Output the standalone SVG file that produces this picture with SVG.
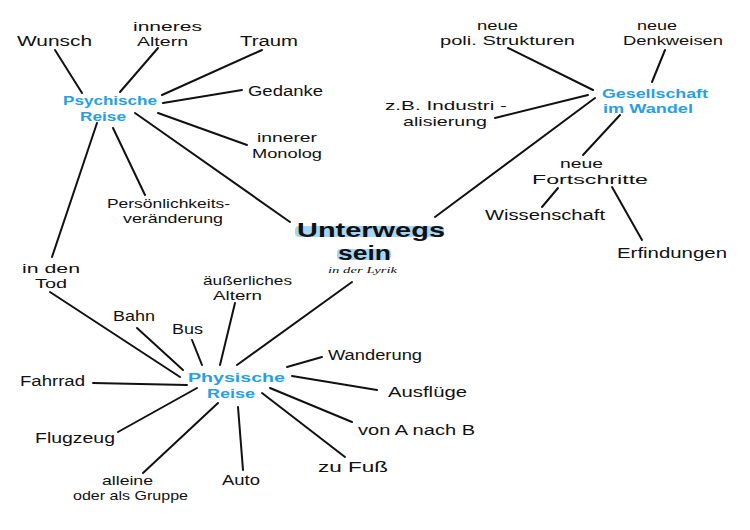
<svg xmlns="http://www.w3.org/2000/svg" width="750" height="530" viewBox="0 0 750 530">
<style>
.bg{fill:#fff}
.c line{stroke:#111;stroke-width:2;stroke-linecap:round}
text{font-family:"Liberation Sans",Arial,sans-serif;font-size:14px;fill:#111}
.t{font-size:13px}
.b{fill:#27a0e3;font-weight:700;font-size:13px}
.m{font-size:20px;font-weight:700}
.s{font-family:"Liberation Serif",serif;font-style:italic;font-size:9px}
.hl{fill:#a6d6f4}
</style>
<rect class="bg" width="750" height="530"/>
<g class="c" id="connectors">
<line x1="55" y1="50" x2="82" y2="93"/>
<line x1="158" y1="48" x2="120" y2="92"/>
<line x1="262" y1="50" x2="162" y2="95"/>
<line x1="242" y1="90" x2="163" y2="103"/>
<line x1="247" y1="145" x2="158" y2="113"/>
<line x1="145" y1="195" x2="113" y2="128"/>
<line x1="135" y1="113" x2="290" y2="222"/>
<line x1="97" y1="123" x2="52" y2="257"/>
<line x1="508" y1="48" x2="593" y2="90"/>
<line x1="665" y1="50" x2="652" y2="82"/>
<line x1="495" y1="118" x2="588" y2="95"/>
<line x1="435" y1="217" x2="595" y2="98"/>
<line x1="620" y1="115" x2="583" y2="155"/>
<line x1="558" y1="188" x2="542" y2="207"/>
<line x1="612" y1="187" x2="642" y2="240"/>
<line x1="50" y1="292" x2="180" y2="377"/>
<line x1="137" y1="328" x2="183" y2="370"/>
<line x1="192" y1="340" x2="202" y2="365"/>
<line x1="235" y1="303" x2="220" y2="365"/>
<line x1="352" y1="282" x2="237" y2="365"/>
<line x1="322" y1="357" x2="287" y2="367"/>
<line x1="292" y1="376" x2="377" y2="390"/>
<line x1="270" y1="388" x2="352" y2="422"/>
<line x1="262" y1="393" x2="345" y2="457"/>
<line x1="238" y1="407" x2="243" y2="470"/>
<line x1="218" y1="403" x2="143" y2="473"/>
<line x1="197" y1="388" x2="118" y2="432"/>
<line x1="93" y1="383" x2="187" y2="385"/>
</g>
<g id="unterwegs">
<rect class="hl" x="295" y="226" width="149" height="11" rx="4"/>
<rect class="hl" x="337" y="249" width="54" height="11" rx="4"/>
<text class="m" x="297" y="237" textLength="148" lengthAdjust="spacingAndGlyphs">Unterwegs</text>
<text class="m" x="338" y="260" textLength="53" lengthAdjust="spacingAndGlyphs">sein</text>
<text class="s" x="328" y="273" textLength="69" lengthAdjust="spacingAndGlyphs">in der Lyrik</text>
</g>
<g id="psychische">
<text class="b" x="63" y="105" textLength="94" lengthAdjust="spacingAndGlyphs">Psychische</text>
<text class="b" x="80" y="121" textLength="46" lengthAdjust="spacingAndGlyphs">Reise</text>
</g>
<g id="wunsch"><text x="17" y="46" textLength="75" lengthAdjust="spacingAndGlyphs">Wunsch</text></g>
<g id="inneres-altern"><text class="t" x="133" y="31" textLength="69" lengthAdjust="spacingAndGlyphs">inneres</text><text class="t" x="137" y="46" textLength="51" lengthAdjust="spacingAndGlyphs">Altern</text></g>
<g id="traum"><text x="240" y="46" textLength="58" lengthAdjust="spacingAndGlyphs">Traum</text></g>
<g id="gedanke"><text x="248" y="96" textLength="75" lengthAdjust="spacingAndGlyphs">Gedanke</text></g>
<g id="monolog"><text class="t" x="257" y="142" textLength="60" lengthAdjust="spacingAndGlyphs">innerer</text><text class="t" x="252" y="158" textLength="70" lengthAdjust="spacingAndGlyphs">Monolog</text></g>
<g id="persoenlichkeit"><text class="t" x="107" y="208" textLength="123" lengthAdjust="spacingAndGlyphs">Persönlichkeits-</text><text class="t" x="123" y="223" textLength="100" lengthAdjust="spacingAndGlyphs">veränderung</text></g>
<g id="tod"><text class="t" x="22" y="273" textLength="58" lengthAdjust="spacingAndGlyphs">in den</text><text class="t" x="35" y="288" textLength="32" lengthAdjust="spacingAndGlyphs">Tod</text></g>
<g id="gesellschaft">
<text class="b" x="602" y="98" textLength="106" lengthAdjust="spacingAndGlyphs">Gesellschaft</text>
<text class="b" x="603" y="113" textLength="90" lengthAdjust="spacingAndGlyphs">im Wandel</text>
</g>
<g id="poli"><text class="t" x="477" y="30" textLength="41" lengthAdjust="spacingAndGlyphs">neue</text><text class="t" x="440" y="45" textLength="135" lengthAdjust="spacingAndGlyphs">poli. Strukturen</text></g>
<g id="denkweisen"><text class="t" x="637" y="30" textLength="40" lengthAdjust="spacingAndGlyphs">neue</text><text class="t" x="623" y="45" textLength="100" lengthAdjust="spacingAndGlyphs">Denkweisen</text></g>
<g id="industri"><text class="t" x="385" y="110" textLength="122" lengthAdjust="spacingAndGlyphs">z.B. Industri -</text><text class="t" x="403" y="126" textLength="84" lengthAdjust="spacingAndGlyphs">alisierung</text></g>
<g id="fortschritte"><text class="t" x="560" y="168" textLength="43" lengthAdjust="spacingAndGlyphs">neue</text><text class="t" x="532" y="184" textLength="116" lengthAdjust="spacingAndGlyphs">Fortschritte</text></g>
<g id="wissenschaft"><text x="485" y="220" textLength="120" lengthAdjust="spacingAndGlyphs">Wissenschaft</text></g>
<g id="erfindungen"><text x="617" y="258" textLength="110" lengthAdjust="spacingAndGlyphs">Erfindungen</text></g>
<g id="physische">
<text class="b" x="188" y="382" textLength="97" lengthAdjust="spacingAndGlyphs">Physische</text>
<text class="b" x="207" y="398" textLength="48" lengthAdjust="spacingAndGlyphs">Reise</text>
</g>
<g id="aeusserliches"><text class="t" x="203" y="285" textLength="89" lengthAdjust="spacingAndGlyphs">äußerliches</text><text class="t" x="213" y="300" textLength="49" lengthAdjust="spacingAndGlyphs">Altern</text></g>
<g id="bahn"><text x="113" y="321" textLength="42" lengthAdjust="spacingAndGlyphs">Bahn</text></g>
<g id="bus"><text x="172" y="334" textLength="31" lengthAdjust="spacingAndGlyphs">Bus</text></g>
<g id="wanderung"><text x="328" y="360" textLength="94" lengthAdjust="spacingAndGlyphs">Wanderung</text></g>
<g id="ausfluege"><text x="388" y="397" textLength="79" lengthAdjust="spacingAndGlyphs">Ausflüge</text></g>
<g id="vonanachb"><text x="358" y="435" textLength="117" lengthAdjust="spacingAndGlyphs">von A nach B</text></g>
<g id="zufuss"><text x="318" y="472" textLength="70" lengthAdjust="spacingAndGlyphs">zu Fuß</text></g>
<g id="auto"><text x="222" y="485" textLength="38" lengthAdjust="spacingAndGlyphs">Auto</text></g>
<g id="alleine"><text class="t" x="102" y="485" textLength="51" lengthAdjust="spacingAndGlyphs">alleine</text><text class="t" x="73" y="500" textLength="115" lengthAdjust="spacingAndGlyphs">oder als Gruppe</text></g>
<g id="flugzeug"><text x="35" y="443" textLength="80" lengthAdjust="spacingAndGlyphs">Flugzeug</text></g>
<g id="fahrrad"><text x="20" y="386" textLength="65" lengthAdjust="spacingAndGlyphs">Fahrrad</text></g>
</svg>
